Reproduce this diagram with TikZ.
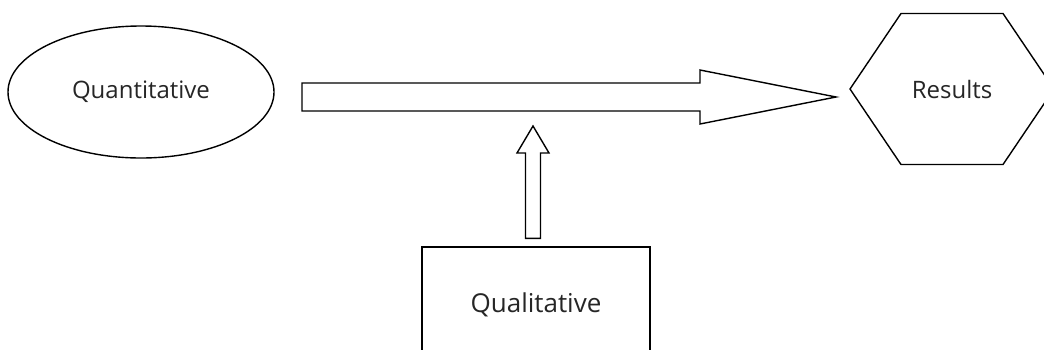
\documentclass[tikz,border=0pt]{standalone}
\usepackage{fontspec}
\setmainfont{Open Sans}
\usetikzlibrary{calc,shapes.geometric}

\begin{document}
\begin{tikzpicture}[x=1pt, y=-1pt, line width=1.4pt, line join=miter,
    every node/.style={font=\fontsize{24}{28}\selectfont, text=black!85}]
    \useasboundingbox (0,0) rectangle (1044,349);
    \clip (0,0) rectangle (1044,349);
    % the three blocks
    \node[draw, ellipse, minimum width=266, minimum height=132] (quant) at (141,92) {Quantitative};
    \node (res) at (952,89) {Results};
    \draw ($(res)+(-102,0)$) -- ($(res)+(-51,-75.5)$) -- ($(res)+(51,-75.5)$)
      -- ($(res)+(102,0)$) -- ($(res)+(51,75.5)$) -- ($(res)+(-51,75.5)$) -- cycle;
    \node[draw, minimum width=228, minimum height=116, font=\fontsize{26}{30}\selectfont] (qual) at (536,305) {Qualitative};
    % block arrows
    \coordinate (maintail) at (302,97);
    \coordinate (maintip) at (836,97);
    \draw ($(maintail)+(0,-14)$) -- ($(maintip)+(-136,-14)$) -- ($(maintip)+(-136,-27)$) -- (maintip)
      -- ($(maintip)+(-136,27)$) -- ($(maintip)+(-136,14)$) -- ($(maintail)+(0,14)$) -- cycle;
    \coordinate (uptail) at ($(qual.north)+(-3,-8)$);
    \coordinate (uptip) at (533,126);
    \draw ($(uptail)+(-7.5,0)$) -- ($(uptip)+(-7.5,27)$) -- ($(uptip)+(-16,27)$) -- (uptip)
      -- ($(uptip)+(16,27)$) -- ($(uptip)+(7.5,27)$) -- ($(uptail)+(7.5,0)$) -- cycle;
\end{tikzpicture}
\end{document}
